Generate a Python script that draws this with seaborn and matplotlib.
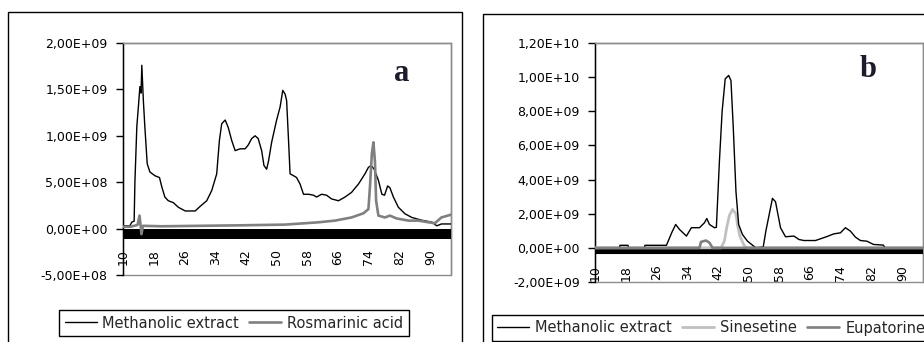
import matplotlib
matplotlib.use("Agg")
import matplotlib.pyplot as plt
from matplotlib.patches import Rectangle
from matplotlib.ticker import FuncFormatter
import pandas as pd
import seaborn as sns

# ---------------- data ----------------
x_ticks = [10, 18, 26, 34, 42, 50, 58, 66, 74, 82, 90]
x_tick_labels = [str(v) for v in x_ticks]

# panel a : methanolic extract (values in 1e8)
a_time = [10.0, 11.8, 12.3, 12.9, 13.1, 13.6, 14.0, 14.4, 14.7, 14.9,
          15.3, 15.7, 16.3, 17.0, 18.3, 19.5, 20.1, 20.9, 21.8, 23.1,
          24.4, 26.2, 28.8, 30.1, 31.8, 33.1, 34.4, 35.1, 35.7, 36.6,
          37.4, 38.3, 39.2, 40.5, 41.8, 42.6, 43.5, 44.4, 45.2, 46.1,
          46.7, 47.4, 47.9, 48.7, 50.0, 50.9, 51.6, 52.2, 52.6, 53.1,
          53.5, 54.4, 55.2, 56.1, 57.0, 58.3, 59.6, 60.4, 61.7, 63.0,
          64.3, 66.1, 67.8, 69.5, 71.3, 73.0, 73.9, 74.6, 75.4, 76.5,
          77.4, 78.1, 78.9, 79.5, 80.4, 81.7, 83.4, 85.2, 87.8, 90.4,
          91.7, 92.9, 95.4]
a_methanolic = [0.3, 0.3, 0.7, 0.8, 5.0, 11.0, 13.1, 15.3, 14.6, 17.6,
                13.8, 10.9, 7.0, 6.1, 5.7, 5.5, 4.5, 3.4, 3.0, 2.8,
                2.3, 1.9, 1.9, 2.4, 3.0, 4.1, 5.9, 9.5, 11.3, 11.7,
                10.9, 9.5, 8.4, 8.6, 8.6, 9.0, 9.7, 10.0, 9.7, 8.4,
                6.8, 6.4, 7.3, 9.3, 11.7, 13.1, 14.9, 14.5, 13.8, 9.5,
                5.9, 5.7, 5.5, 4.8, 3.7, 3.7, 3.6, 3.4, 3.7, 3.6,
                3.2, 3.0, 3.4, 3.9, 4.8, 5.9, 6.6, 6.8, 6.4, 5.2,
                3.7, 3.6, 4.6, 4.4, 3.4, 2.3, 1.6, 1.2, 0.9, 0.7,
                0.3, 0.5, 0.5]

# panel a : rosmarinic acid (values in 1e8)
a_ros_time = [10.0, 12.0, 13.8, 14.3, 14.6, 14.8, 15.2, 20.0, 30.0, 40.0,
              52.2, 60.9, 65.2, 69.5, 72.6, 73.9, 74.3, 74.8, 75.2, 75.6,
              75.9, 76.5, 78.2, 79.5, 81.2, 84.3, 86.9, 89.5, 91.2, 92.9,
              95.4]
a_rosmarinic = [0.2, 0.2, 0.4, 1.4, 0.3, -0.6, 0.3, 0.25, 0.3, 0.35,
                0.43, 0.68, 0.86, 1.2, 1.65, 2.1, 4.5, 8.1, 9.3, 7.2,
                3.0, 1.4, 1.2, 1.4, 1.1, 0.86, 0.86, 0.68, 0.58, 1.2,
                1.5]

# panel b : methanolic extract (values in 1e9)
b_time = [10.0, 16.4, 16.5, 18.6, 18.7, 22.9, 23.0, 28.6, 30.0, 31.0,
          32.0, 33.8, 35.1, 37.2, 38.5, 39.1, 39.8, 41.1, 41.6, 42.4,
          43.1, 43.9, 44.8, 45.4, 46.0, 46.7, 47.4, 48.4, 49.7, 51.0,
          51.9, 53.8, 54.5, 56.2, 57.0, 58.3, 59.6, 61.8, 63.1, 64.4,
          67.4, 70.0, 72.2, 73.9, 75.2, 76.5, 77.8, 79.1, 80.8, 82.5,
          85.1, 85.5, 95.4]
b_methanolic = [0.0, 0.0, 0.15, 0.15, 0.0, 0.0, 0.15, 0.15, 0.9, 1.37,
                1.08, 0.69, 1.18, 1.18, 1.47, 1.72, 1.37, 1.18, 1.2, 5.1,
                8.0, 9.9, 10.1, 9.8, 7.05, 3.3, 1.37, 0.78, 0.39, 0.16,
                0.0, 0.05, 1.0, 2.9, 2.7, 1.18, 0.65, 0.69, 0.49, 0.43,
                0.43, 0.63, 0.82, 0.88, 1.18, 0.98, 0.63, 0.43, 0.39, 0.2,
                0.16, 0.0, 0.0]

# panel b : sinesetine and eupatorine (values in 1e9)
b_sin_time = [10.0, 42.8, 43.7, 44.3, 45.0, 45.8, 46.7, 47.1, 47.7, 48.8, 49.5, 95.4]
b_sinesetine = [0.0, 0.0, 0.4, 1.2, 1.9, 2.25, 2.0, 1.35, 0.7, 0.15, 0.0, 0.0]
b_eup_time = [10.0, 37.2, 37.6, 38.9, 39.8, 40.6, 95.4]
b_eupatorine = [0.0, 0.0, 0.35, 0.43, 0.3, 0.0, 0.0]

# ---------------- figure ----------------
sns.set_style("white")
plt.rcParams["font.family"] = ["DejaVu Sans"]

W, H = 924, 342
fig = plt.figure(figsize=(W / 100, H / 100), dpi=100)
fig.patch.set_facecolor("white")

axA = fig.add_axes([123 / W, 1 - 275 / H, 328 / W, 232 / H])
axB = fig.add_axes([595 / W, 1 - 282 / H, 328 / W, 239 / H])

dfA1 = pd.DataFrame({"t": a_time, "v": [v * 1e8 for v in a_methanolic]})
dfA2 = pd.DataFrame({"t": a_ros_time, "v": [v * 1e8 for v in a_rosmarinic]})
dfB1 = pd.DataFrame({"t": b_time, "v": [v * 1e9 for v in b_methanolic]})
dfB2 = pd.DataFrame({"t": b_sin_time, "v": [v * 1e9 for v in b_sinesetine]})
dfB3 = pd.DataFrame({"t": b_eup_time, "v": [v * 1e9 for v in b_eupatorine]})

sns.lineplot(data=dfA1, x="t", y="v", ax=axA, color="black", lw=1.0,
             estimator=None, label="Methanolic extract", legend=False, zorder=3)
sns.lineplot(data=dfA2, x="t", y="v", ax=axA, color="#808080", lw=1.9,
             estimator=None, label="Rosmarinic acid", legend=False, zorder=4)

sns.lineplot(data=dfB2, x="t", y="v", ax=axB, color="#c0c0c0", lw=2.0,
             estimator=None, label="Sinesetine", legend=False, zorder=3)
sns.lineplot(data=dfB1, x="t", y="v", ax=axB, color="black", lw=1.0,
             estimator=None, label="Methanolic extract", legend=False, zorder=4)
sns.lineplot(data=dfB3, x="t", y="v", ax=axB, color="#808080", lw=1.9,
             estimator=None, label="Eupatorine", legend=False, zorder=5)


def sci_comma(v, pos):
    return f"{v:.2E}".replace(".", ",")


def style(ax, ylim, yticks, base_y, base_lw, xpad):
    # move the thick category axis first (this resets ticks)
    ax.spines["bottom"].set_position(("data", base_y))
    ax.spines["bottom"].set_linewidth(base_lw)
    ax.spines["bottom"].set_color("black")
    ax.spines["bottom"].set_capstyle("butt")
    ax.set_xlim(10, 95.4)
    ax.set_ylim(*ylim)
    ax.set_yticks(yticks)
    ax.yaxis.set_major_formatter(FuncFormatter(sci_comma))
    ax.set_xticks(x_ticks)
    ax.set_xticklabels(x_tick_labels)
    ax.set_xlabel("")
    ax.set_ylabel("")
    for s in ("top", "right"):
        ax.spines[s].set_color("#8c8c8c")
        ax.spines[s].set_linewidth(1.0)
    ax.spines["left"].set_color("black")
    ax.spines["left"].set_linewidth(1.0)
    ax.patch.set_edgecolor("#8c8c8c")
    ax.patch.set_linewidth(1.0)
    ax.tick_params(axis="y", left=True, direction="out", length=5, width=1,
                   color="black", pad=6, labelsize=9, labelcolor="black")
    ax.tick_params(axis="x", bottom=True, length=0, pad=xpad, labelsize=9,
                   labelcolor="black", labelrotation=90)
    ax.grid(False)


style(axA, (-5e8, 2e9), [-5e8, 0, 5e8, 1e9, 1.5e9, 2e9], -0.54e8, 7.2, 11)
style(axB, (-2e9, 1.2e10), [-2e9, 0, 2e9, 4e9, 6e9, 8e9, 1e10, 1.2e10],
      -1.75e8, 4.4, 10)

axA.text(0.85, 0.87, "a", transform=axA.transAxes, ha="center", va="center",
         fontsize=22, fontweight="bold", family="Liberation Serif", color="#1c1c2c")
axB.text(0.832, 0.89, "b", transform=axB.transAxes, ha="center", va="center",
         fontsize=22, fontweight="bold", family="Liberation Serif", color="#1c1c2c")

# outer frames of the two panels
fig.add_artist(Rectangle((8 / W, -0.2), (462 - 8) / W, 1.2 - 12 / H,
                         transform=fig.transFigure, fill=False, ec="black", lw=1.0))
fig.add_artist(Rectangle((483 / W, -0.2), 0.6, 1.2 - 14 / H,
                         transform=fig.transFigure, fill=False, ec="black", lw=1.0))

hA, lA = axA.get_legend_handles_labels()
legA = fig.legend(hA, lA, loc="center", bbox_to_anchor=(234 / W, 1 - 323 / H),
                  ncol=2, fancybox=False, edgecolor="black", framealpha=1,
                  fontsize=10.5, handlelength=2.2, handletextpad=0.4,
                  columnspacing=0.7, borderpad=0.35)
legA.get_frame().set_linewidth(1.0)

hB, lB = axB.get_legend_handles_labels()
order = [lB.index("Methanolic extract"), lB.index("Sinesetine"), lB.index("Eupatorine")]
legB = fig.legend([hB[i] for i in order], [lB[i] for i in order], loc="center left",
                  bbox_to_anchor=(485 / W, 1 - 328 / H),
                  ncol=3, fancybox=False, edgecolor="black", framealpha=1,
                  fontsize=10.5, handlelength=2.2, handletextpad=0.4,
                  columnspacing=0.7, borderpad=0.35)
legB.get_frame().set_linewidth(1.0)

fig.savefig("out.png", dpi=100, facecolor="white")
